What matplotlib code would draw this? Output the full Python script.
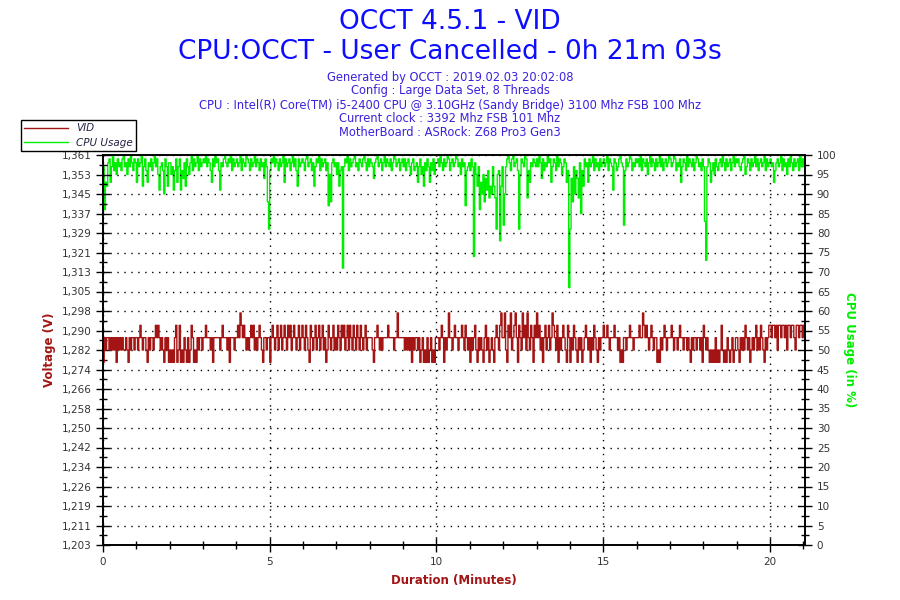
import numpy as np
import matplotlib
matplotlib.use("Agg")
import matplotlib.pyplot as plt
from matplotlib.ticker import MultipleLocator, FixedLocator

# --- data (28 samples per minute) ---
samples_per_minute = 28
duration_min = 21.05

# VID in millivolts, one row per minute
vid_mv = [
    1277, 1287, 1282, 1287, 1287, 1282, 1287, 1282, 1287, 1282, 1287, 1277, 1287, 1282, 1287, 1282, 1287, 1282, 1282, 1287, 1282, 1277, 1287, 1282, 1287, 1287, 1282, 1287,
    1287, 1282, 1287, 1292, 1287, 1282, 1287, 1287, 1282, 1277, 1287, 1282, 1287, 1287, 1282, 1287, 1292, 1287, 1292, 1287, 1282, 1287, 1282, 1277, 1287, 1282, 1287, 1277,
    1282, 1277, 1282, 1277, 1287, 1292, 1277, 1282, 1292, 1277, 1282, 1277, 1287, 1282, 1277, 1287, 1277, 1282, 1292, 1287, 1277, 1282, 1277, 1287, 1282, 1287, 1287, 1282,
    1287, 1287, 1292, 1287, 1287, 1287, 1282, 1287, 1277, 1287, 1287, 1287, 1287, 1287, 1282, 1287, 1292, 1287, 1287, 1287, 1282, 1287, 1277, 1287, 1287, 1287, 1282, 1287,
    1287, 1292, 1287, 1297, 1292, 1287, 1292, 1287, 1282, 1287, 1282, 1287, 1292, 1287, 1292, 1282, 1287, 1282, 1287, 1292, 1287, 1282, 1277, 1287, 1287, 1282, 1287, 1287,
    1277, 1287, 1292, 1287, 1282, 1287, 1292, 1282, 1287, 1292, 1282, 1287, 1292, 1287, 1282, 1292, 1287, 1292, 1282, 1287, 1292, 1287, 1282, 1287, 1292, 1282, 1287, 1292,
    1287, 1282, 1292, 1287, 1282, 1277, 1292, 1287, 1282, 1287, 1292, 1282, 1287, 1292, 1282, 1287, 1292, 1282, 1287, 1277, 1282, 1292, 1287, 1282, 1287, 1292, 1282, 1287,
    1282, 1292, 1287, 1282, 1292, 1287, 1292, 1282, 1287, 1292, 1282, 1292, 1287, 1282, 1292, 1287, 1282, 1292, 1287, 1282, 1292, 1287, 1282, 1287, 1292, 1282, 1287, 1287,
    1287, 1287, 1282, 1277, 1287, 1287, 1292, 1287, 1282, 1287, 1282, 1287, 1287, 1287, 1287, 1292, 1287, 1287, 1287, 1287, 1282, 1287, 1287, 1297, 1287, 1287, 1287, 1287,
    1287, 1282, 1287, 1282, 1287, 1282, 1287, 1277, 1287, 1282, 1287, 1287, 1282, 1287, 1277, 1282, 1287, 1277, 1282, 1277, 1287, 1277, 1282, 1287, 1277, 1282, 1277, 1287,
    1287, 1287, 1282, 1287, 1292, 1287, 1277, 1287, 1282, 1287, 1297, 1287, 1287, 1282, 1287, 1292, 1287, 1287, 1282, 1287, 1287, 1292, 1287, 1282, 1292, 1287, 1282, 1287,
    1277, 1287, 1282, 1287, 1292, 1282, 1277, 1287, 1282, 1287, 1282, 1277, 1287, 1292, 1282, 1287, 1277, 1282, 1287, 1282, 1277, 1287, 1292, 1287, 1282, 1292, 1297, 1287,
    1287, 1297, 1282, 1277, 1292, 1287, 1297, 1282, 1287, 1292, 1297, 1287, 1277, 1292, 1287, 1282, 1297, 1287, 1292, 1282, 1297, 1287, 1282, 1292, 1287, 1277, 1292, 1287,
    1297, 1287, 1292, 1282, 1287, 1277, 1287, 1292, 1282, 1287, 1292, 1282, 1287, 1297, 1292, 1287, 1282, 1292, 1277, 1287, 1282, 1287, 1292, 1287, 1282, 1277, 1292, 1287,
    1277, 1287, 1282, 1292, 1287, 1282, 1277, 1287, 1282, 1287, 1277, 1282, 1287, 1292, 1287, 1282, 1287, 1277, 1287, 1282, 1292, 1287, 1282, 1277, 1287, 1282, 1287, 1287,
    1292, 1287, 1287, 1292, 1287, 1282, 1287, 1287, 1287, 1292, 1287, 1287, 1282, 1287, 1277, 1282, 1277, 1287, 1287, 1282, 1287, 1287, 1292, 1287, 1287, 1282, 1287, 1287,
    1287, 1287, 1292, 1287, 1287, 1297, 1292, 1287, 1292, 1287, 1282, 1287, 1292, 1287, 1282, 1287, 1287, 1277, 1282, 1277, 1287, 1282, 1287, 1292, 1287, 1282, 1287, 1287,
    1287, 1292, 1287, 1282, 1287, 1287, 1282, 1287, 1292, 1287, 1287, 1282, 1287, 1287, 1282, 1287, 1282, 1277, 1287, 1282, 1287, 1287, 1282, 1287, 1287, 1282, 1287, 1277,
    1292, 1287, 1282, 1287, 1282, 1277, 1282, 1277, 1282, 1277, 1287, 1277, 1282, 1277, 1282, 1292, 1282, 1277, 1282, 1277, 1287, 1282, 1277, 1282, 1287, 1277, 1282, 1287,
    1287, 1282, 1277, 1287, 1282, 1287, 1282, 1292, 1287, 1282, 1287, 1277, 1282, 1287, 1282, 1287, 1292, 1282, 1287, 1282, 1292, 1287, 1282, 1277, 1287, 1282, 1287, 1292,
    1292, 1287, 1292, 1292, 1287, 1292, 1282, 1292, 1292, 1287, 1292, 1292, 1287, 1292, 1282, 1292, 1292, 1287, 1292, 1292, 1287, 1282, 1292, 1292, 1287, 1292, 1292, 1287,
    1292,
]

# CPU usage in %, one row per minute
cpu_usage = [
    97, 86, 93, 92, 98, 99, 93, 97, 100, 96, 98, 95, 99, 97, 98, 96, 99, 100, 97, 98, 95, 99, 97, 100, 98, 96, 99, 98,
    93, 99, 97, 98, 100, 92, 97, 99, 96, 93, 98, 97, 99, 96, 98, 100, 97, 99, 95, 91, 97, 98, 96, 90, 99, 97, 92, 98,
    98, 95, 97, 91, 96, 99, 93, 97, 99, 91, 96, 94, 98, 92, 99, 97, 95, 98, 100, 96, 99, 97, 98, 100, 96, 99, 97, 98,
    99, 98, 100, 97, 99, 98, 96, 93, 99, 97, 100, 98, 99, 96, 91, 98, 97, 99, 100, 98, 97, 99, 98, 100, 96, 99, 97, 98,
    99, 97, 98, 100, 96, 99, 98, 97, 100, 99, 98, 96, 99, 97, 98, 100, 97, 99, 98, 96, 99, 97, 98, 94, 99, 97, 88, 81,
    96, 99, 98, 100, 97, 99, 98, 96, 99, 97, 98, 100, 93, 99, 97, 98, 99, 96, 98, 100, 97, 99, 96, 92, 99, 97, 98, 99,
    98, 96, 99, 100, 97, 98, 99, 96, 98, 92, 97, 99, 98, 100, 96, 99, 97, 98, 99, 96, 98, 87, 95, 88, 98, 99, 97, 98,
    95, 98, 92, 96, 97, 71, 97, 99, 98, 100, 96, 99, 97, 98, 99, 100, 97, 98, 96, 99, 98, 97, 99, 100, 98, 96, 99, 97,
    99, 98, 97, 94, 98, 99, 100, 97, 98, 99, 96, 98, 100, 97, 99, 98, 97, 99, 96, 98, 100, 99, 97, 98, 99, 96, 98, 99,
    97, 99, 96, 98, 99, 97, 95, 98, 99, 96, 97, 98, 93, 97, 99, 95, 97, 92, 98, 96, 99, 97, 93, 98, 96, 99, 95, 98,
    98, 99, 97, 100, 98, 96, 99, 97, 98, 100, 99, 96, 98, 99, 97, 98, 100, 99, 97, 98, 95, 99, 97, 98, 87, 96, 97, 98,
    96, 99, 97, 74, 98, 95, 92, 97, 86, 93, 90, 95, 88, 94, 91, 96, 89, 92, 90, 97, 92, 89, 81, 95, 96, 78, 92, 97,
    82, 90, 97, 99, 100, 98, 96, 99, 100, 97, 98, 99, 96, 81, 95, 99, 98, 97, 100, 99, 89, 96, 93, 98, 97, 99, 98, 97,
    99, 97, 100, 98, 94, 99, 96, 98, 97, 100, 98, 99, 93, 97, 99, 98, 96, 100, 97, 99, 98, 95, 97, 99, 98, 93, 96, 66,
    81, 94, 88, 97, 90, 96, 94, 89, 98, 85, 96, 92, 99, 97, 98, 93, 99, 97, 98, 100, 96, 99, 97, 98, 96, 99, 97, 98,
    99, 97, 98, 100, 96, 99, 98, 97, 91, 99, 98, 96, 97, 99, 100, 98, 97, 82, 96, 99, 97, 98, 100, 99, 96, 98, 97, 99,
    98, 99, 97, 100, 96, 99, 98, 97, 99, 95, 98, 100, 97, 99, 98, 96, 99, 97, 98, 100, 97, 99, 96, 98, 99, 97, 98, 100,
    99, 97, 98, 100, 99, 96, 98, 97, 99, 93, 97, 99, 98, 96, 100, 97, 99, 98, 97, 99, 96, 98, 100, 99, 97, 98, 96, 99,
    97, 83, 73, 97, 99, 98, 93, 96, 98, 95, 99, 97, 96, 98, 99, 97, 100, 98, 96, 99, 97, 98, 99, 96, 98, 100, 97, 99,
    98, 99, 97, 96, 98, 99, 100, 95, 97, 99, 98, 96, 99, 97, 98, 100, 97, 99, 96, 98, 99, 97, 98, 100, 96, 99, 97, 98,
    99, 97, 98, 93, 96, 98, 99, 97, 98, 100, 96, 99, 97, 98, 95, 99, 97, 100, 98, 96, 99, 97, 98, 99, 96, 100, 97, 99,
    97,
]

volt_ticks = ["1,203", "1,211", "1,219", "1,226", "1,234", "1,242", "1,250",
              "1,258", "1,266", "1,274", "1,282", "1,290", "1,298", "1,305",
              "1,313", "1,321", "1,329", "1,337", "1,345", "1,353", "1,361"]

title_lines = ["OCCT 4.5.1 - VID", "CPU:OCCT - User Cancelled - 0h 21m 03s"]
info_lines = [
    "Generated by OCCT : 2019.02.03 20:02:08",
    "Config : Large Data Set, 8 Threads",
    "CPU : Intel(R) Core(TM) i5-2400 CPU @ 3.10GHz (Sandy Bridge) 3100 Mhz FSB 100 Mhz",
    "Current clock : 3392 Mhz FSB 101 Mhz",
    "MotherBoard : ASRock: Z68 Pro3 Gen3",
]

vid_color = "#a31515"
cpu_color = "#00ee00"
title_color = "#0d0dff"
info_color = "#3a22dd"
tick_color = "#333333"
plot_bg = "#fdf5e8"

vid_volts = np.array(vid_mv) / 1000.0
t_vid = np.arange(len(vid_volts)) / samples_per_minute
t_cpu = np.arange(len(cpu_usage)) / samples_per_minute

fig = plt.figure(figsize=(9, 6), dpi=100)
fig.patch.set_facecolor("white")
ax = fig.add_axes([103 / 900, 1 - 545 / 600, 702 / 900, 390 / 600])
ax2 = ax.twinx()

v_lo, v_hi = 1.203, 1.361
ax.set_xlim(0, duration_min)
ax.set_ylim(v_lo, v_hi)
ax2.set_ylim(0, 100)

# green underneath, red on top, background on the lower axes
ax2.set_zorder(0)
ax.set_zorder(1)
ax2.patch.set_facecolor(plot_bg)
ax.patch.set_visible(False)

ax2.step(t_cpu, cpu_usage, where="post", color=cpu_color, lw=1.0)
ax.step(t_vid, vid_volts, where="post", color=vid_color, lw=1.0)

vt = np.linspace(v_lo, v_hi, len(volt_ticks))
ax.yaxis.set_major_locator(FixedLocator(vt))
ax.set_yticklabels(volt_ticks)
ax.yaxis.set_minor_locator(FixedLocator((vt[:-1] + vt[1:]) / 2))
ax.xaxis.set_major_locator(MultipleLocator(5))
ax.xaxis.set_minor_locator(MultipleLocator(1))
ax2.yaxis.set_major_locator(MultipleLocator(5))
ax2.yaxis.set_minor_locator(MultipleLocator(2.5))

for a in (ax, ax2):
    for s in a.spines.values():
        s.set_color("black")
        s.set_linewidth(1.2)
    a.tick_params(which="major", direction="inout", length=10, width=1, colors="black",
                  labelcolor=tick_color, labelsize=7.5)
    a.tick_params(which="minor", direction="inout", length=6, width=1, colors="black")

ax.grid(True, which="major", ls=(0, (1, 4)), color="black", lw=1.0)

fig.text(0.5, 1 - 22 / 600, title_lines[0], ha="center", va="center", fontsize=19, color=title_color)
fig.text(0.5, 1 - 52 / 600, title_lines[1], ha="center", va="center", fontsize=19, color=title_color)
for i, line in enumerate(info_lines):
    fig.text(0.5, 1 - (77 + 14 * i) / 600, line, ha="center", va="center", fontsize=8.3, color=info_color)

ax.set_xlabel("Duration (Minutes)", color=vid_color, fontsize=8.5, fontweight="bold", labelpad=5)
ax.set_ylabel("Voltage (V)", color=vid_color, fontsize=8.5, fontweight="bold", labelpad=4)
ax2.set_ylabel("CPU Usage (in %)", color=cpu_color, fontsize=8.5, fontweight="bold",
               rotation=270, labelpad=14)

h1, = ax.plot([], [], color=vid_color, lw=1)
h2, = ax.plot([], [], color=cpu_color, lw=1)
leg = fig.legend([h1, h2], ["VID", "CPU Usage"], loc="upper left",
                 bbox_to_anchor=(16 / 900, 1 - 115 / 600), frameon=True, fancybox=False,
                 edgecolor="black", framealpha=1, handlelength=4.2,
                 borderpad=0.3, labelspacing=0.4, prop={"style": "italic", "size": 7.5})
leg.get_frame().set_linewidth(1)
for txt in leg.get_texts():
    txt.set_color("#222244")

fig.savefig("out.png", dpi=100)
